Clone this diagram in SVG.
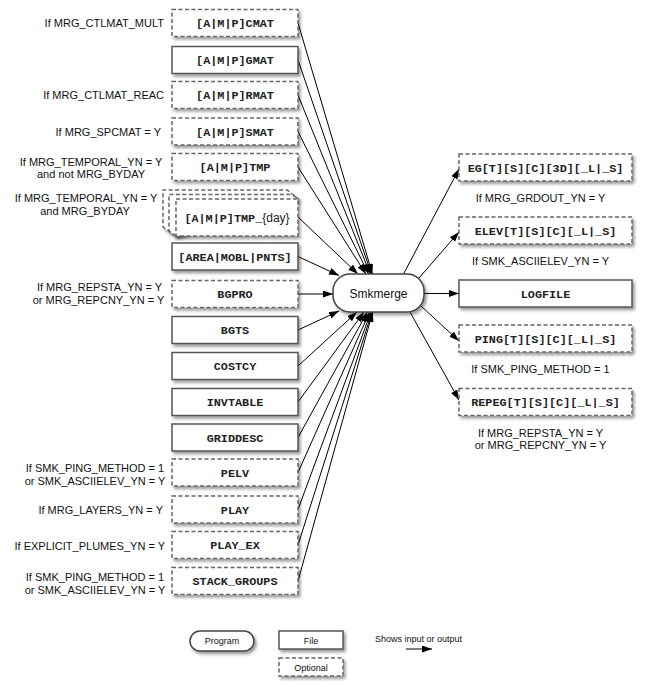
<svg xmlns="http://www.w3.org/2000/svg" width="650" height="686" viewBox="0 0 650 686">
<style>
.bg{fill:#fff}
.file{fill:#fff;stroke:#555;stroke-width:1.5;filter:url(#sh)}
.opt{fill:#fff;stroke:#666;stroke-width:1.5;stroke-dasharray:4,2.5;filter:url(#sh)}
.prog{fill:#fff;stroke:#444;stroke-width:1.5;filter:url(#sh)}
.ft{font-family:"Liberation Mono",monospace;font-weight:bold;font-size:11.8px;fill:#222;text-anchor:middle}
.lb{font-family:"Liberation Sans",Arial,sans-serif;font-size:11px;fill:#111}
.lm{font-family:"Liberation Sans",Arial,sans-serif;font-size:11px;fill:#111;text-anchor:middle}
.le{font-family:"Liberation Sans",Arial,sans-serif;font-size:11px;fill:#111;text-anchor:end}
.pt{font-family:"Liberation Sans",Arial,sans-serif;font-size:12px;fill:#111;text-anchor:middle}
.lg{font-family:"Liberation Sans",Arial,sans-serif;font-size:9px;fill:#111;text-anchor:middle}
.c line{stroke:#000;stroke-width:1;marker-end:url(#ah)}
</style>
<defs>
<filter id="sh" x="-10%" y="-20%" width="130%" height="160%">
<feDropShadow dx="2" dy="2.5" stdDeviation="1.5" flood-color="#000" flood-opacity="0.4"/>
</filter>
<marker id="ah" markerUnits="userSpaceOnUse" markerWidth="11" markerHeight="8" refX="10" refY="3.5" orient="auto">
<path d="M0,0 L10,3.5 L0,7 z" fill="#000"/>
</marker>
</defs>
<rect class="bg" x="0" y="0" width="650" height="686"/>

<g id="connectors" class="c">
<line x1="298" y1="23" x2="372.4" y2="274"/>
<line x1="298" y1="60" x2="371.5" y2="274"/>
<line x1="298" y1="95" x2="370.3" y2="274"/>
<line x1="298" y1="131.5" x2="368.6" y2="274"/>
<line x1="298" y1="167" x2="365.9" y2="274"/>
<line x1="298" y1="217" x2="358" y2="274"/>
<line x1="298" y1="256.5" x2="339" y2="275.5"/>
<line x1="298" y1="294" x2="333" y2="294"/>
<line x1="298" y1="330" x2="339" y2="311"/>
<line x1="298" y1="366" x2="357" y2="312"/>
<line x1="298" y1="402" x2="364" y2="312"/>
<line x1="298" y1="437.5" x2="367.4" y2="312"/>
<line x1="298" y1="472.5" x2="369.6" y2="312"/>
<line x1="298" y1="509.5" x2="371" y2="312"/>
<line x1="298" y1="545" x2="372" y2="312"/>
<line x1="298" y1="581" x2="372.7" y2="312"/>
<line x1="403" y1="275" x2="459" y2="169"/>
<line x1="419" y1="278" x2="459" y2="232"/>
<line x1="424" y1="293.5" x2="459" y2="293.5"/>
<line x1="421" y1="306" x2="459" y2="341"/>
<line x1="410" y1="312" x2="459" y2="400"/>
<line x1="406" y1="649" x2="432" y2="649"/>
</g>

<g id="smkmerge">
<rect class="prog" x="333" y="274" width="91" height="38" rx="17" ry="17"/>
<text class="pt" x="378.5" y="297.5">Smkmerge</text>
</g>

<g id="cmat">
<text class="le" x="164" y="27">If MRG_CTLMAT_MULT</text>
<rect class="opt" x="172" y="9.5" width="126" height="27"/>
<text class="ft" x="235" y="27">[A|M|P]CMAT</text>
</g>
<g id="gmat">
<rect class="file" x="172" y="46.5" width="126" height="27"/>
<text class="ft" x="235" y="64">[A|M|P]GMAT</text>
</g>
<g id="rmat">
<text class="le" x="164" y="99">If MRG_CTLMAT_REAC</text>
<rect class="opt" x="172" y="81.5" width="126" height="27"/>
<text class="ft" x="235" y="99">[A|M|P]RMAT</text>
</g>
<g id="smat">
<text class="le" x="161" y="135.5">If MRG_SPCMAT = Y</text>
<rect class="opt" x="172" y="118" width="126" height="27"/>
<text class="ft" x="235" y="135.5">[A|M|P]SMAT</text>
</g>
<g id="tmp">
<text class="lm" x="91" y="166">If MRG_TEMPORAL_YN = Y</text>
<text class="lm" x="91" y="178">and not MRG_BYDAY</text>
<rect class="opt" x="172" y="153.5" width="126" height="27"/>
<text class="ft" x="235" y="171">[A|M|P]TMP</text>
</g>
<g id="tmp_day">
<text class="lm" x="86" y="202">If MRG_TEMPORAL_YN = Y</text>
<text class="lm" x="85" y="215">and MRG_BYDAY</text>
<path class="opt" d="M176,236 L163,227 V190 H287 L298,199 Z"/>
<path class="opt" d="M176,236 L169,231 V194.5 H292 L298,199 Z"/>
<rect class="opt" x="176" y="199" width="122" height="37"/>
<text class="ft" x="237" y="221.5">[A|M|P]TMP_<tspan font-family="Liberation Sans, Arial, sans-serif" font-weight="normal" font-size="12px">{day}</tspan></text>
</g>
<g id="area">
<rect class="file" x="172" y="243" width="126" height="27"/>
<text class="ft" x="235" y="260.5">[AREA|MOBL|PNTS]</text>
</g>
<g id="bgpro">
<text class="lm" x="99.5" y="291">If MRG_REPSTA_YN = Y</text>
<text class="lm" x="98.5" y="304">or MRG_REPCNY_YN = Y</text>
<rect class="opt" x="172" y="280.5" width="126" height="27"/>
<text class="ft" x="235" y="298">BGPRO</text>
</g>
<g id="bgts">
<rect class="file" x="172" y="316.5" width="126" height="27"/>
<text class="ft" x="235" y="334">BGTS</text>
</g>
<g id="costcy">
<rect class="file" x="172" y="352.5" width="126" height="27"/>
<text class="ft" x="235" y="370">COSTCY</text>
</g>
<g id="invtable">
<rect class="file" x="172" y="388.5" width="126" height="27"/>
<text class="ft" x="235" y="406">INVTABLE</text>
</g>
<g id="griddesc">
<rect class="file" x="172" y="424" width="126" height="27"/>
<text class="ft" x="235" y="441.5">GRIDDESC</text>
</g>
<g id="pelv">
<text class="lm" x="95" y="472">If SMK_PING_METHOD = 1</text>
<text class="lm" x="95" y="485">or SMK_ASCIIELEV_YN = Y</text>
<rect class="opt" x="172" y="459" width="126" height="27"/>
<text class="ft" x="235" y="476.5">PELV</text>
</g>
<g id="play">
<text class="le" x="163" y="514">If MRG_LAYERS_YN = Y</text>
<rect class="opt" x="172" y="496" width="126" height="27"/>
<text class="ft" x="235" y="513.5">PLAY</text>
</g>
<g id="play_ex">
<text class="le" x="165" y="550">If EXPLICIT_PLUMES_YN = Y</text>
<rect class="opt" x="172" y="531.5" width="126" height="27"/>
<text class="ft" x="235" y="549">PLAY_EX</text>
</g>
<g id="stack_groups">
<text class="lm" x="95" y="581">If SMK_PING_METHOD = 1</text>
<text class="lm" x="95" y="594">or SMK_ASCIIELEV_YN = Y</text>
<rect class="opt" x="172" y="567.5" width="126" height="27"/>
<text class="ft" x="235" y="585">STACK_GROUPS</text>
</g>

<g id="eg">
<rect class="opt" x="459" y="154" width="173" height="27"/>
<text class="ft" x="545.5" y="171.5">EG[T][S][C][3D][_L|_S]</text>
<text class="lm" x="540.5" y="202">If MRG_GRDOUT_YN = Y</text>
</g>
<g id="elev">
<rect class="opt" x="459" y="217" width="173" height="27"/>
<text class="ft" x="545.5" y="234.5">ELEV[T][S][C][_L|_S]</text>
<text class="lm" x="540.5" y="265">If SMK_ASCIIELEV_YN = Y</text>
</g>
<g id="logfile">
<rect class="file" x="459" y="280" width="173" height="27"/>
<text class="ft" x="545.5" y="297.5">LOGFILE</text>
</g>
<g id="ping">
<rect class="opt" x="459" y="325" width="173" height="27"/>
<text class="ft" x="545.5" y="342.5">PING[T][S][C][_L|_S]</text>
<text class="lm" x="540.5" y="373">If SMK_PING_METHOD = 1</text>
</g>
<g id="repeg">
<rect class="opt" x="459" y="388.5" width="173" height="27"/>
<text class="ft" x="545.5" y="406">REPEG[T][S][C][_L|_S]</text>
<text class="lm" x="540.5" y="437">If MRG_REPSTA_YN = Y</text>
<text class="lm" x="540.5" y="449">or MRG_REPCNY_YN = Y</text>
</g>

<g id="legend">
<rect class="prog" x="190" y="631" width="64" height="20" rx="10" ry="10"/>
<text class="lg" x="222" y="644">Program</text>
<rect class="file" x="279" y="631" width="64" height="18"/>
<text class="lg" x="311" y="643.5">File</text>
<rect class="opt" x="279" y="658" width="64" height="18"/>
<text class="lg" x="311" y="670.5">Optional</text>
<text class="lg" x="418.5" y="642">Shows input or output</text>
</g>
</svg>
